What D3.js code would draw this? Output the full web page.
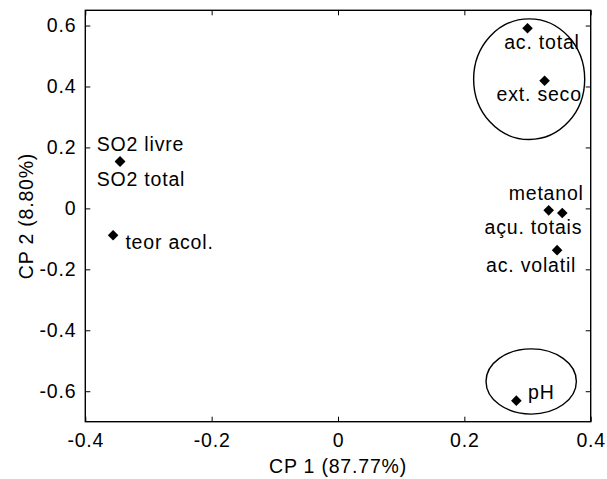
<!DOCTYPE html>
<html>
<head>
<meta charset="utf-8">
<script src="https://cdn.jsdelivr.net/npm/d3@7"></script>
<style>
  html, body { margin: 0; padding: 0; background: #fff; }
  svg { display: block; }
  text { font-family: "Liberation Sans", Arial, Helvetica, sans-serif; fill: #000; }
</style>
</head>
<body>
<script>
// ---- data ----
const variables = ["ac. total", "ext. seco", "SO2 livre", "SO2 total", "teor acol.", "metanol", "açu. totais", "ac. volatil", "pH"];
const cp1 = [0.300, 0.327, -0.345, -0.345, -0.356, 0.3335, 0.355, 0.3468, 0.2823];
const cp2 = [0.591, 0.419, 0.154, 0.154, -0.088, -0.0065, -0.015, -0.137, -0.631];
const xTicks = [-0.4, -0.2, 0, 0.2, 0.4];
const yTicks = [-0.6, -0.4, -0.2, 0, 0.2, 0.4, 0.6];
const xTickLabels = ["-0.4", "-0.2", "0", "0.2", "0.4"];
const yTickLabels = ["-0.6", "-0.4", "-0.2", "0", "0.2", "0.4", "0.6"];
const xTitle = "CP 1 (87.77%)";
const yTitle = "CP 2 (8.80%)";
// ellipses (in data units): centre x, centre y, radius x, radius y
const ellipseCx = [0.3026, 0.3058];
const ellipseCy = [0.424, -0.568];
const ellipseRx = [0.0879, 0.0715];
const ellipseRy = [0.198, 0.107];

// ---- layout (pixel offsets of labels relative to points) ----
const labelDx = [-23.3, -48, -23.3, -23.3, 12.3, -40, -77.7, -71, 11.7];
const labelDy = [20.7, 20.7, -10.3, 24.7, 14, -10.3, 21.3, 21.7, -2];

const W = 607, H = 479;
const plot = { left: 85.3, right: 590.7, top: 10.3, bottom: 421.7 };
const fontSize = 19.5, letterSp = 0.8;

const svg = d3.select("body").append("svg").attr("width", W).attr("height", H);

const x = d3.scaleLinear().domain([-0.4, 0.4]).range([plot.left, plot.right]);
const y = d3.scaleLinear().domain([-0.7, 0.65]).range([plot.bottom, plot.top]);

function styleAxis(g) {
  g.select(".domain").remove();
  g.selectAll(".tick line").attr("stroke", "#000").attr("stroke-width", 1);
  g.selectAll("text").attr("font-size", fontSize).attr("letter-spacing", letterSp)
    .attr("font-family", '"Liberation Sans", Arial, sans-serif').attr("fill", "#000");
}

// bottom axis
svg.append("g").attr("transform", `translate(0,${plot.bottom})`)
  .call(d3.axisBottom(x).tickValues(xTicks).tickFormat((d, i) => xTickLabels[i]).tickSizeInner(-5).tickSizeOuter(0).tickPadding(11))
  .call(styleAxis)
  .call(g => g.selectAll("text").attr("dy", "0.75em"));
// top axis (ticks only)
svg.append("g").attr("transform", `translate(0,${plot.top})`)
  .call(d3.axisTop(x).tickValues(xTicks).tickFormat("").tickSizeInner(-5).tickSizeOuter(0))
  .call(styleAxis);
// left axis
svg.append("g").attr("transform", `translate(${plot.left},0)`)
  .call(d3.axisLeft(y).tickValues(yTicks).tickFormat((d, i) => yTickLabels[i]).tickSizeInner(-5).tickSizeOuter(0).tickPadding(9))
  .call(styleAxis);
// right axis (ticks only)
svg.append("g").attr("transform", `translate(${plot.right},0)`)
  .call(d3.axisRight(y).tickValues(yTicks).tickFormat("").tickSizeInner(-5).tickSizeOuter(0))
  .call(styleAxis);

// frame
svg.append("rect")
  .attr("x", plot.left).attr("y", plot.top)
  .attr("width", plot.right - plot.left).attr("height", plot.bottom - plot.top)
  .attr("fill", "none").attr("stroke", "#000").attr("stroke-width", 1.4);

// ellipses
svg.append("g").selectAll("ellipse").data(ellipseCx).join("ellipse")
  .attr("cx", (d) => x(d))
  .attr("cy", (d, i) => y(ellipseCy[i]))
  .attr("rx", (d, i) => x(ellipseRx[i]) - x(0))
  .attr("ry", (d, i) => y(0) - y(ellipseRy[i]))
  .attr("fill", "none").attr("stroke", "#000").attr("stroke-width", 1.4);

// diamonds
const dm = 5.3;
svg.append("g").selectAll("path").data(variables).join("path")
  .attr("transform", (d, i) => `translate(${x(cp1[i])},${y(cp2[i])})`)
  .attr("d", `M0,${-dm}L${dm},0L0,${dm}L${-dm},0Z`)
  .attr("fill", "#000");

// labels
svg.append("g").selectAll("text").data(variables).join("text")
  .attr("x", (d, i) => x(cp1[i]) + labelDx[i])
  .attr("y", (d, i) => y(cp2[i]) + labelDy[i])
  .attr("font-size", fontSize).attr("letter-spacing", letterSp)
  .text(d => d);

// axis titles
svg.append("text")
  .attr("x", (plot.left + plot.right) / 2).attr("y", 473)
  .attr("text-anchor", "middle").attr("font-size", fontSize).attr("letter-spacing", letterSp)
  .text(xTitle);
svg.append("text")
  .attr("transform", `translate(33,${(plot.top + plot.bottom) / 2}) rotate(-90)`)
  .attr("text-anchor", "middle").attr("font-size", fontSize).attr("letter-spacing", letterSp)
  .text(yTitle);
</script>
</body>
</html>
